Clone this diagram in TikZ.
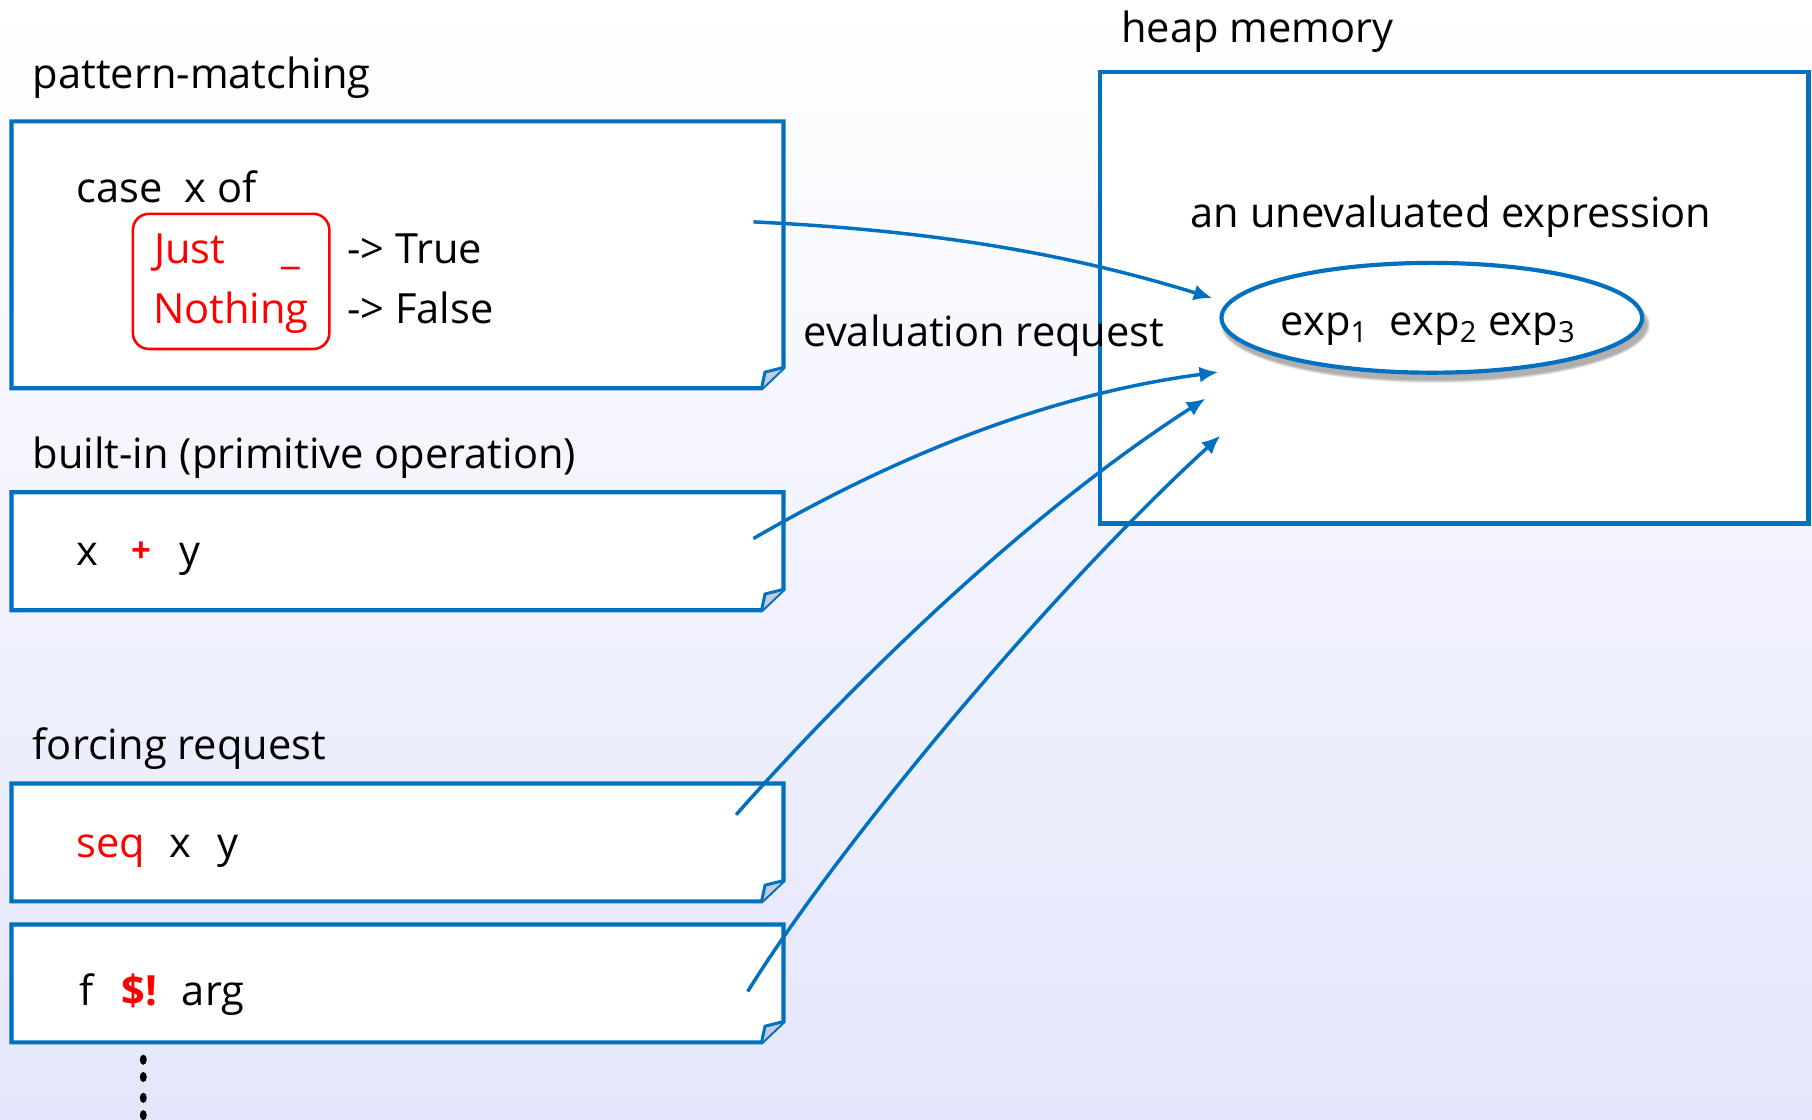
\documentclass[tikz,border=0pt]{standalone}
\usepackage{fontspec}
\setmainfont{Open Sans}
\usetikzlibrary{arrows.meta,shapes.geometric}
\definecolor{pblue}{HTML}{0070C0}
\definecolor{pred}{HTML}{FF0000}
\definecolor{foldc}{HTML}{C4CCDC}
\definecolor{bgbot}{RGB}{228,230,251}
% card with folded bottom-right corner: name, x1, y1, x2, y2
\newcommand{\cardbox}[5]{%
  \fill[white] (#2,#3) -- (#4,#3) -- (#4,#5-18) -- (#4-19,#5) -- (#2,#5) -- cycle;
  \draw[cardline] (#4-19,#5) -- (#2,#5) -- (#2,#3) -- (#4,#3) -- (#4,#5-18) -- cycle;
  \filldraw[cardline,fill=foldc,line width=1.3pt] (#4-19,#5) -- (#4-16,#5-14) -- (#4,#5-18);
  \coordinate (#1-nw) at (#2,#3);
  \coordinate (#1-se) at (#4,#5);
}
\begin{document}
\begin{tikzpicture}[x=0.5pt,y=-0.5pt,
  txt/.style={anchor=base west,inner sep=0pt,font=\fontsize{18}{22}\selectfont},
  cardline/.style={draw=pblue,line width=1.8pt,line join=miter},
  arr/.style={draw=pblue,line width=1.5pt,-{Latex[length=8pt,width=7pt]}},
  red/.style={text=pred}]
\useasboundingbox (0,0) rectangle (1568,969);
\shade[top color=white,bottom color=bgbot] (0,0) rectangle (1568,969);

% left cards
\cardbox{pm}{10}{105}{678}{336}
\cardbox{bi}{10}{426}{678}{528}
\cardbox{sq}{10}{678}{678}{780}
\cardbox{fa}{10}{800}{678}{902}

% heap box
\filldraw[fill=white,draw=pblue,line width=1.8pt] (952,62) rectangle (1565,453);
\coordinate (heap-nw) at (952,62);

% titles
\node[txt] (theap) at (970,37) {heap memory};
\node[txt] (tpm) at (28,77) {pattern-matching};
\node[txt] (tbi) at (28,405) {built-in (primitive operation)};
\node[txt] (tfr) at (28,657) {forcing request};

% pattern-matching contents
\node[txt] (case) at (66,175) {case\ \ x of};
\draw[pred,line width=1.1pt,rounded corners=7pt] (115,185) rectangle (285,302);
\node[txt,red] (just) at (133,228) {Just};
\node[txt,red] (under) at (243,228) {\_};
\node[txt,red] (nothing) at (132,280) {Nothing};
\node[txt] (true) at (300,228) {-> True};
\node[txt] (false) at (300,280) {-> False};

% built-in
\node[txt] (bx) at (66,489) {x};
\node[txt,red] (bplus) at (113,487) {\fontsize{15}{18}\selectfont\textbf{+}};
\node[txt] (by) at (155,489) {y};

% seq
\node[txt,red] (seq) at (66,742) {seq};
\node[txt] (sx) at (146,742) {x};
\node[txt] (sy) at (188,742) {y};

% $!
\node[txt] (ff) at (68,870) {f};
\node[txt,red] (bang) at (105,870) {\textbf{\$!}};
\node[txt] (farg) at (157,870) {arg};

% vertical dots
\foreach \yy in {917,932,950,965}
  \fill (124,\yy) ellipse (1.5pt and 2.2pt);

% heap contents
\node[txt] (unev) at (1030,197) {an unevaluated expression};
% soft shadow of the ellipse
\foreach \k in {0,...,5}
  \fill[black,opacity=0.06] (1242,281) ellipse ({91.5pt+0.3pt*\k} and {24pt+0.25pt*\k});
\node[ellipse,draw=pblue,line width=1.8pt,fill=white,minimum width=182pt,minimum height=47.5pt,inner sep=0pt] (ell) at (1239,275) {};
\node[anchor=base,inner sep=0pt,font=\fontsize{18}{22}\selectfont] (exps) at (1236,290)
  {exp\textsubscript{1}\ \ exp\textsubscript{2} exp\textsubscript{3}};

\node[txt] (evreq) at (695,300) {evaluation request};

% connectors
\coordinate (s1) at (652,192);
\coordinate (e1) at (1049,258);
\coordinate (s2) at (652,466);
\coordinate (e2) at (1054,322);
\coordinate (s3) at (637,705);
\coordinate (e3) at (1043,345);
\coordinate (s4) at (647,858);
\coordinate (e4) at (1056,377);
\draw[arr] (s1) .. controls (800,199) and (920,218) .. (e1);
\draw[arr] (s2) .. controls (740,415) and (880,345) .. (e2);
\draw[arr] (s3) .. controls (730,600) and (880,450) .. (e3);
\draw[arr] (s4) .. controls (720,740) and (900,520) .. (e4);
\end{tikzpicture}
\end{document}
